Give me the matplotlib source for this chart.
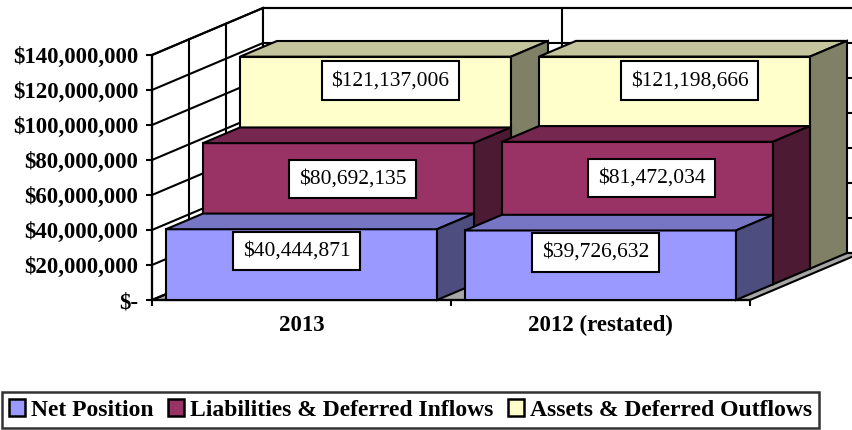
import numpy as np
import matplotlib
matplotlib.use('Agg')
import matplotlib.pyplot as plt
from matplotlib.patches import Polygon, Patch
from matplotlib.colors import to_rgb
from matplotlib.ticker import FuncFormatter

plt.rcParams['font.family'] = ['Liberation Serif', 'DejaVu Serif']

# data
categories = ['2013', '2012 (restated)']
series_names = ['Net Position', 'Liabilities & Deferred Inflows', 'Assets & Deferred Outflows']
net_position = [40444871, 39726632]
liabilities = [80692135, 81472034]
assets = [121137006, 121198666]
y_ticks = np.arange(0, 140000001, 20000000)

front_colors = ['#9999FF', '#993366', '#FFFFCC']
# label nudges in pixels (x right, y down from bar top), one per series
label_dx = [-5, 14, 15]
label_dy = [22, 36, 24]


def shade(color, f):
    return tuple(np.array(to_rgb(color)) * f)


fig = plt.figure(figsize=(8.52, 4.30), dpi=100)
ax = fig.add_axes([152 / 852, 130 / 430, 598 / 852, 245 / 430])
ymax = 140e6
ax.set_xlim(0, 2)
ax.set_ylim(0, ymax)
ax.patch.set_visible(False)
for side in ('top', 'right'):
    ax.spines[side].set_visible(False)
for side in ('left', 'bottom'):
    ax.spines[side].set_linewidth(1.6)

# pixel -> data conversion for the fake depth
px_x = 2 / 598
px_y = ymax / 245
slot_dx = 37 * px_x
slot_dy = 15.67 * px_y
n_slots = len(series_names)
dx3, dy3 = n_slots * slot_dx, n_slots * slot_dy
bar_w = 271 / 299
bar_gap = (1 - bar_w) / 2
lw = 1.5

# walls and floor
kw = dict(ec='black', lw=lw, clip_on=False, zorder=1)
ax.add_patch(Polygon([(0, 0), (2, 0), (2 + dx3, dy3), (dx3, dy3)], fc='#A6A6A6', **kw))
ax.add_patch(Polygon([(0, 0), (0, ymax), (dx3, ymax + dy3), (dx3, dy3)], fc='white', **kw))
ax.add_patch(Polygon([(dx3, dy3), (dx3, ymax + dy3), (2 + dx3, ymax + dy3), (2 + dx3, dy3)],
                     fc='white', **kw))
for v in y_ticks:
    ax.plot([0, dx3, 2 + dx3], [v, v + dy3, v + dy3], color='black', lw=lw,
            clip_on=False, zorder=2)
for s in range(1, n_slots):
    ax.plot([s * slot_dx] * 2, [s * slot_dy, ymax + s * slot_dy], color='black', lw=lw,
            clip_on=False, zorder=2)
ax.plot([1 + dx3] * 2, [dy3, ymax + dy3], color='black', lw=lw, clip_on=False, zorder=2)

# bars, back row first, left to right
values = [net_position, liabilities, assets]
z = 3
for s in reversed(range(n_slots)):
    col = front_colors[s]
    for c in range(len(categories)):
        v = values[s][c]
        x0 = c + bar_gap + s * slot_dx
        x1 = x0 + bar_w
        y0 = s * slot_dy
        y1 = v + s * slot_dy
        faces = [
            ([(x0, y0), (x1, y0), (x1, y1), (x0, y1)], col),
            ([(x0, y1), (x1, y1), (x1 + slot_dx, y1 + slot_dy), (x0 + slot_dx, y1 + slot_dy)],
             shade(col, 0.77)),
            ([(x1, y0), (x1 + slot_dx, y0 + slot_dy), (x1 + slot_dx, y1 + slot_dy), (x1, y1)],
             shade(col, 0.5)),
        ]
        for pts, fc in faces:
            ax.add_patch(Polygon(pts, fc=fc, ec='black', lw=lw, clip_on=False, zorder=z))
        ax.annotate(f'${v:,.0f}', xy=((x0 + x1) / 2, y1),
                    xytext=(label_dx[s], -label_dy[s]), textcoords='offset pixels',
                    ha='center', va='center', fontsize=15.5, zorder=z + 1,
                    bbox=dict(boxstyle='square,pad=0.45', fc='white', ec='black', lw=1.5))
        z += 2

# axes ticks and labels
ax.set_yticks(y_ticks)
ax.yaxis.set_major_formatter(FuncFormatter(lambda v, p: '$-' if v == 0 else f'${v:,.0f}'))
ax.tick_params(axis='y', direction='out', length=4, width=1.5, pad=6, labelsize=16.5)
for t in ax.get_yticklabels():
    t.set_fontweight('bold')

ax.set_xticks([0, 1, 2])
ax.set_xticklabels([])
ax.set_xticks([0.5, 1.5], minor=True)
ax.set_xticklabels(categories, minor=True, fontsize=16.5, fontweight='bold')
ax.tick_params(axis='x', which='major', direction='out', length=4, width=1.5)
ax.tick_params(axis='x', which='minor', length=0, pad=11)

handles = [Patch(fc=c, ec='black', lw=1.8) for c in front_colors]
leg = fig.legend(handles, series_names, loc='lower center', bbox_to_anchor=(410.5 / 852, 2 / 430),
                 borderaxespad=0, ncol=3, frameon=True, fancybox=False, edgecolor='black',
                 prop={'weight': 'bold', 'size': 17}, handlelength=0.68, handleheight=0.7,
                 handletextpad=0.26, columnspacing=0.6, borderpad=0.3)
leg.get_frame().set_linewidth(1.8)

fig.savefig('out.png', dpi=100)
